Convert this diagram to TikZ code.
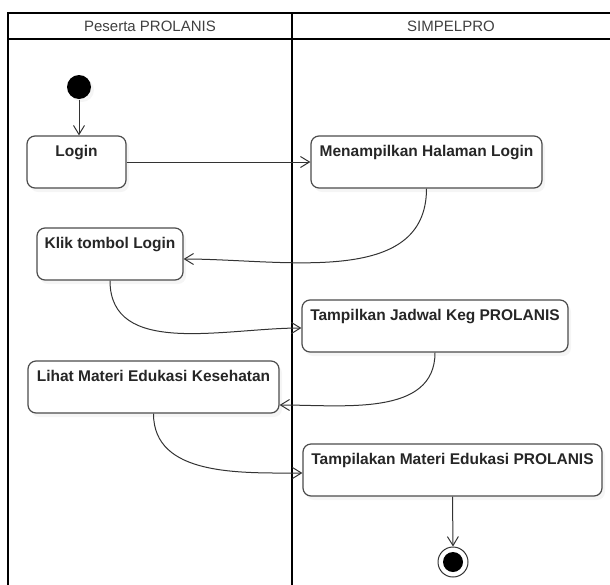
\documentclass[tikz,border=0pt]{standalone}
\usepackage{fontspec}
\setmainfont{Liberation Sans}
\usetikzlibrary{arrows.meta,shadows}
\begin{document}
\begin{tikzpicture}[x=1pt,y=-1pt,line width=1pt,>={Straight Barb[length=9pt,width=11pt]},
      lajur/.style={line width=2.2pt, draw=black},
      aksi/.style={rectangle, draw=black!70, line width=1.2pt, rounded corners=8pt, fill=white,
        font=\bfseries\fontsize{15.5}{18}\selectfont, text=black!85, inner xsep=2pt,
        inner ysep=4.5pt, text height=16pt, text depth=27pt,
        drop shadow={shadow xshift=3pt, shadow yshift=-4pt, opacity=0.08}},
      pfeil/.style={->, draw=black!80, line width=1pt},
      kepala/.style={font=\fontsize{15}{18}\selectfont, text=black!75}]
    \useasboundingbox (0,0) rectangle (610,584);
    % swimlanes
    \draw[lajur] (8,600) -- (8,13) -- (620,13);
    \draw[lajur] (8,39) -- (620,39);
    \draw[lajur] (292,13) -- (292,600);
    \node[kepala] at (150,26) (H1) {Peserta PROLANIS};
    \node[kepala] at (451,26) (H2) {SIMPELPRO};
    % activities
    \node[circle, fill=black, minimum size=24pt, inner sep=0pt,
      drop shadow={shadow xshift=3pt, shadow yshift=-3pt, opacity=0.08}] at (79,87) (A0) {};
    \node[aksi, minimum width=99pt] at (76.5,162) (A1) {Login};
    \node[aksi, minimum width=231pt] at (426.5,162) (A2) {Menampilkan Halaman Login};
    \node[aksi, minimum width=146pt] at (110,254) (A3) {Klik tombol Login};
    \node[aksi, minimum width=266pt] at (435,326) (A4) {Tampilkan Jadwal Keg PROLANIS};
    \node[aksi, minimum width=251pt] at (153.5,387) (A5) {Lihat Materi Edukasi Kesehatan};
    \node[aksi, minimum width=299pt] at (452.5,470) (A6) {Tampilakan Materi Edukasi PROLANIS};
    \node[circle, draw=black!80, line width=1pt, fill=white, minimum size=30pt, inner sep=0pt] at (453,562) (A7) {};
    \fill[black] (A7) circle (10pt);
    % flows
    \draw[pfeil] (A0.south) -- (A0.south |- A1.north);
    \draw[pfeil] (A1.east) -- (A2.west);
    \draw[pfeil] (A2.south) to[out=-90,in=0] ([yshift=-5pt]A3.east);
    \draw[pfeil] (A3.south) to[out=-90,in=180] ([yshift=-2pt]A4.west);
    \draw[pfeil] (A4.south) to[out=-90,in=0] ([yshift=-18pt]A5.east);
    \draw[pfeil] (A5.south) to[out=-90,in=180] ([yshift=-3pt]A6.west);
    \draw[pfeil] (A6.south) -- (A7.north);
  \end{tikzpicture}
\end{document}
